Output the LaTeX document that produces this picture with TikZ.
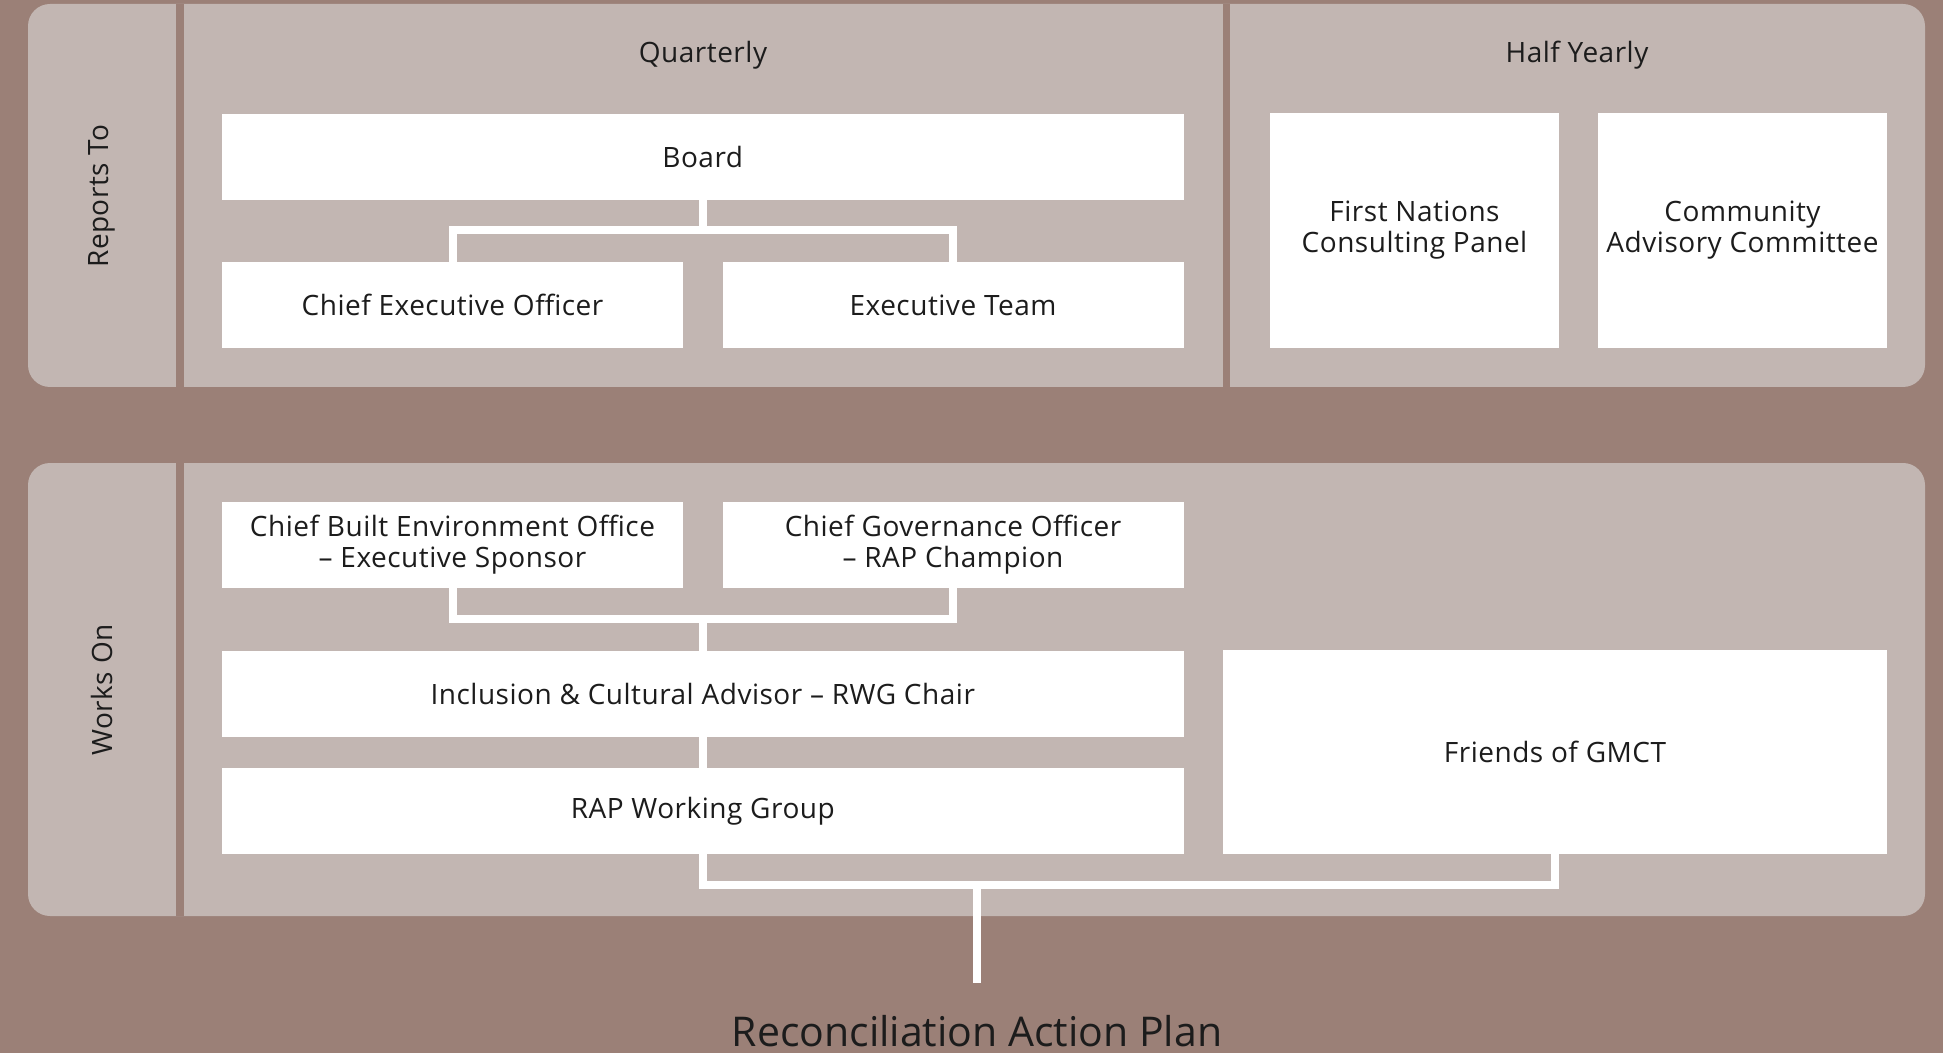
\documentclass[tikz,border=0pt]{standalone}
\usepackage{fontspec}
\setmainfont{Open Sans}
\newfontfamily\labelfont[LetterSpace=1.8]{Open Sans}
\definecolor{bgbrown}{HTML}{9B8077}
\definecolor{panelgrey}{HTML}{C2B6B2}
\definecolor{inkdark}{HTML}{1C1C1C}
\begin{document}
\begin{tikzpicture}[x=0.5pt,y=-0.5pt,
  panel/.style={fill=panelgrey, rounded corners=11pt},
  gap/.style={fill=bgbrown},
  box/.style={fill=white, draw=none, text=inkdark, align=center, inner sep=0pt,
    font=\labelfont\fontsize{14}{15.5}\selectfont},
  boxwh/.style n args={2}{minimum width=#1*0.5pt, minimum height=#2*0.5pt},
  heading/.style={text=inkdark, font=\labelfont\fontsize{14}{15.5}\selectfont},
  conn/.style={draw=white, line width=4pt, line join=miter}
]
% page and panels
\fill[bgbrown] (0,0) rectangle (1943,1053);
\useasboundingbox (0,0) rectangle (1943,1053);
\fill[panel] (28,4) rectangle (1925,387);
\fill[gap] (176,4) rectangle (184,387);
\fill[gap] (1223,4) rectangle (1230,387);
\fill[panel] (28,463) rectangle (1925,916);
\fill[gap] (176,463) rectangle (184,916);

% row labels
\node[heading, rotate=90] (lblreports) at (102,196) {Reports To};
\node[heading, rotate=90] (lblworks) at (102,690) {Works On};
\node[heading] (lblquarterly) at (703,55.5) {Quarterly};
\node[heading] (lblhalf) at (1577,55.5) {Half Yearly};

% reporting boxes
\node[box, boxwh={961.5}{86}] (board) at (702.75,157) {Board};
\node[box, boxwh={461}{86}] (ceo) at (452.5,305) {Chief Executive Officer};
\node[box, boxwh={461}{86}] (exec) at (953,305) {Executive Team};
\node[box, boxwh={289}{235}] (fnc) at (1414.5,230.5) {First Nations\\Consulting Panel};
\node[box, boxwh={289}{235}] (cac) at (1742.5,230.5) {Community\\Advisory Committee};

% working boxes
\node[box, boxwh={461}{86}] (cbeo) at (452.5,545) {Chief Built Environment Office\\– Executive Sponsor};
\node[box, boxwh={461}{86}] (cgo) at (953,545) {Chief Governance Officer\\– RAP Champion};
\node[box, boxwh={961.5}{86}] (incl) at (702.75,694) {Inclusion \& Cultural Advisor – RWG Chair};
\node[box, boxwh={961.5}{86}] (rap) at (702.75,811) {RAP Working Group};
\node[box, boxwh={664}{204}] (friends) at (1555,752) {Friends of GMCT};

% plan title
\node[text=inkdark, anchor=base, inner sep=0pt, font=\fontsize{20.5}{24}\selectfont] (plan) at (977,1046) {Reconciliation Action Plan};

% connectors
\coordinate (tj) at (702.75,230);
\draw[conn] (ceo.north) |- (tj) -| (exec.north);
\draw[conn] (board.south) -- (tj);

\coordinate (bj) at (702.75,619);
\draw[conn] (cbeo.south) |- (bj) -| (cgo.south);
\draw[conn] (bj) -- (incl.north);
\draw[conn] (incl.south) -- (rap.north);

\coordinate (rj) at (977,885);
\coordinate (planend) at (977,983);
\draw[conn] (rap.south) |- (rj) -| (friends.south);
\draw[conn] (rj) -- (planend);
\end{tikzpicture}
\end{document}
